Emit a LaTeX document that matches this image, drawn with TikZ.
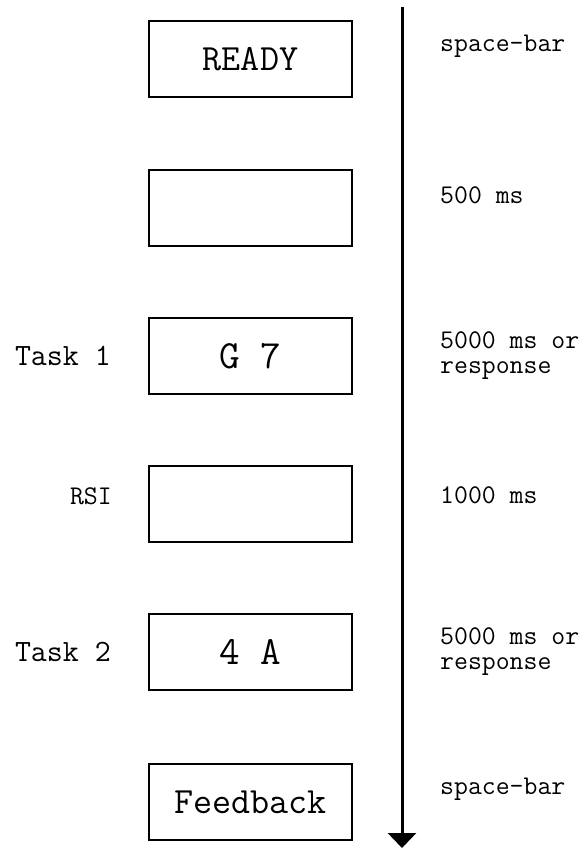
\documentclass[tikz,border=0pt]{standalone}
\usepackage{fontspec}
\usetikzlibrary{arrows.meta}
\begin{document}
\begin{tikzpicture}[x=1pt,y=-1pt,
  screen/.style={draw=black, line width=1.6pt, minimum width=203pt, minimum height=76pt, inner sep=0pt},
  stim/.style={font=\ttfamily\fontsize{40}{44}\selectfont},
  word/.style={font=\ttfamily\fontsize{37}{40}\selectfont},
  side/.style={font=\ttfamily\fontsize{31}{32}\selectfont, anchor=east, inner sep=0pt},
  timing/.style={font=\ttfamily\fontsize{27}{25}\selectfont, anchor=west, align=left, inner sep=0pt},
  timeline/.style={line width=3pt, -{Triangle[width=28pt,length=15pt]}}]
  \useasboundingbox (0,0) rectangle (586,849);

  % trial screens
  \node[screen, word] (ready)    at (250.5,59)  {READY};
  \node[screen]       (blank)    at (250.5,208) {};
  \node[screen, stim] (task1)    at (250.5,356) {G 7};
  \node[screen]       (rsi)      at (250.5,504) {};
  \node[screen, stim] (task2)    at (250.5,652) {4 A};
  \node[screen, word] (feedback) at (250.5,802) {Feedback};

  % left-hand labels
  \node[side] (lbltask1) at (111,356) {Task 1};
  \node[side, font=\ttfamily\fontsize{27}{25}\selectfont] (lblrsi) at (112,496) {RSI};
  \node[side] (lbltask2) at (111,652) {Task 2};

  % time axis
  \coordinate (tstart) at (402,7);
  \coordinate (tend)   at (402,848);
  \draw[timeline] (tstart) -- (tend);

  % durations
  \node[timing] (dready) at (440,46)  {space-bar};
  \node[timing] (dblank) at (440,195) {500 ms};
  \node[timing] (dtask1) at (440,356) {5000 ms or\\response};
  \node[timing] (drsi)   at (440,495) {1000 ms};
  \node[timing] (dtask2) at (440,652) {5000 ms or\\response};
  \node[timing] (dfeed)  at (440,789) {space-bar};
\end{tikzpicture}
\end{document}
